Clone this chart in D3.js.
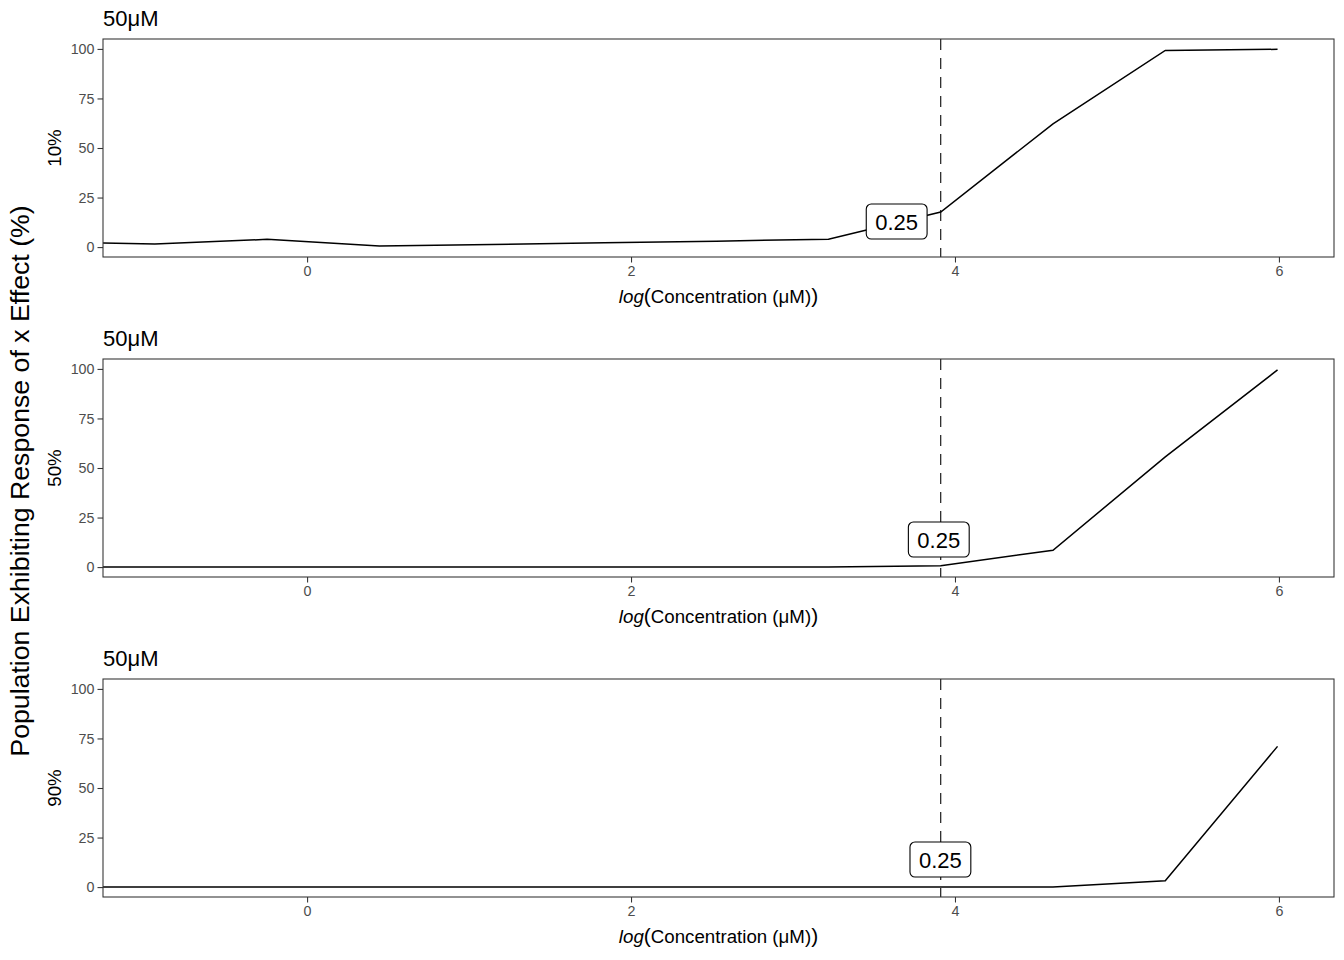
<!DOCTYPE html>
<html>
<head>
<meta charset="utf-8">
<script src="https://cdn.jsdelivr.net/npm/d3@7"></script>
<style>
  html, body { margin: 0; padding: 0; background: #fff; }
  svg { display: block; font-family: "Liberation Sans", Arial, Helvetica, sans-serif; }
</style>
</head>
<body>
<svg id="chart" width="1344" height="960"></svg>
<script>
// ---- data ----
const concentrations = [0.1953125, 0.390625, 0.78125, 1.5625, 3.125, 6.25, 12.5, 25, 50, 100, 200, 400];
const resp10 = [2.6, 1.5, 3.9, 0.5, 1.3, 2.2, 3.0, 4.0, 17.7, 62.2, 99.2, 99.8];
const resp50 = [0, 0, 0, 0, 0, 0, 0, 0, 0.7, 8.5, 55.6, 99.5];
const resp90 = [0, 0, 0, 0, 0, 0, 0, 0, 0, 0, 3.2, 71];
const panelNames = ["10%", "50%", "90%"];
const panelTitles = ["50μM", "50μM", "50μM"];
const thresholdConc = 50;
const labelText = ["0.25", "0.25", "0.25"];
const labelX = [3.64, 3.90, 3.91];
const labelY = [12.9, 13.9, 13.9];
const xTicks = [0, 2, 4, 6];
const yTicks = [0, 25, 50, 75, 100];
const yTitle = "Population Exhibiting Response of x Effect (%)";

const series = [resp10, resp50, resp90];

const svg = d3.select("#chart");
const defs = svg.append("defs");
const left = 103, right = 1334;
const panelTops = [39, 359, 679];
const panelH = 218;

const x = d3.scaleLinear().domain([-1.26, 6.34]).range([left, right]);

series.forEach((vals, i) => {
  const top = panelTops[i], bottom = top + panelH;
  const y = d3.scaleLinear().domain([-5, 105]).range([bottom, top]);
  const g = svg.append("g");

  const cid = "clip" + i;
  defs.append("clipPath").attr("id", cid)
    .append("rect").attr("x", left).attr("y", top).attr("width", right - left).attr("height", panelH);

  // title
  g.append("text").attr("x", left).attr("y", top - 13)
    .attr("font-size", 22).attr("fill", "#000").text(panelTitles[i]);

  // x axis
  const xa = g.append("g").attr("transform", `translate(0,${bottom})`)
    .call(d3.axisBottom(x).tickValues(xTicks).tickSize(5.5).tickPadding(3.5).tickFormat(d3.format("d")));
  xa.select(".domain").remove();
  xa.selectAll("line").attr("stroke", "#333").attr("stroke-width", 1.07);
  xa.selectAll("text").attr("font-size", 14.3).attr("fill", "#4D4D4D").attr("font-family", null);

  // y axis
  const ya = g.append("g").attr("transform", `translate(${left},0)`)
    .call(d3.axisLeft(y).tickValues(yTicks).tickSize(5.5).tickPadding(3));
  ya.select(".domain").remove();
  ya.selectAll("line").attr("stroke", "#333").attr("stroke-width", 1.07);
  ya.selectAll("text").attr("font-size", 14.3).attr("fill", "#4D4D4D").attr("font-family", null);

  // line
  const pts = concentrations.map((c, k) => [Math.log(c), vals[k]]);
  g.append("path").datum(pts)
    .attr("clip-path", `url(#${cid})`)
    .attr("fill", "none").attr("stroke", "#000").attr("stroke-width", 1.5)
    .attr("d", d3.line().x(d => x(d[0])).y(d => y(d[1])));

  // vline
  g.append("line")
    .attr("x1", x(Math.log(thresholdConc))).attr("x2", x(Math.log(thresholdConc)))
    .attr("y1", top).attr("y2", bottom)
    .attr("stroke", "#000").attr("stroke-width", 1.07).attr("stroke-dasharray", "11,8");

  // label
  const lx = x(labelX[i]), ly = y(labelY[i]);
  const box = g.append("rect");
  const lt = g.append("text").attr("x", lx).attr("y", ly + 8).attr("text-anchor", "middle")
    .attr("font-size", 22).attr("fill", "#000").text(labelText[i]);
  const tw = lt.node().getComputedTextLength();
  box.attr("x", lx - tw / 2 - 9).attr("y", ly - 17.5)
    .attr("width", tw + 18).attr("height", 35)
    .attr("rx", 5).attr("ry", 5)
    .attr("fill", "#fff").attr("stroke", "#000").attr("stroke-width", 1.1);

  // panel border
  g.append("rect").attr("x", left).attr("y", top).attr("width", right - left).attr("height", panelH)
    .attr("fill", "none").attr("stroke", "#333").attr("stroke-width", 1.07);

  // x axis title
  const xt = g.append("text").attr("x", (left + right) / 2).attr("y", bottom + 46)
    .attr("text-anchor", "middle").attr("font-size", 18.7).attr("fill", "#000");
  xt.append("tspan").attr("font-style", "italic").text("log");
  xt.append("tspan").attr("font-size", 21).text("(");
  xt.append("tspan").text("Concentration (μM)");
  xt.append("tspan").attr("font-size", 21).text(")");

  // y axis title
  g.append("text").attr("transform", `translate(61,${(top + bottom) / 2}) rotate(-90)`)
    .attr("text-anchor", "middle").attr("font-size", 18.7).attr("fill", "#000").text(panelNames[i]);
});

svg.append("text").attr("transform", "translate(29,481) rotate(-90)")
  .attr("text-anchor", "middle").attr("font-size", 26.7).attr("fill", "#000").text(yTitle);
</script>
</body>
</html>
